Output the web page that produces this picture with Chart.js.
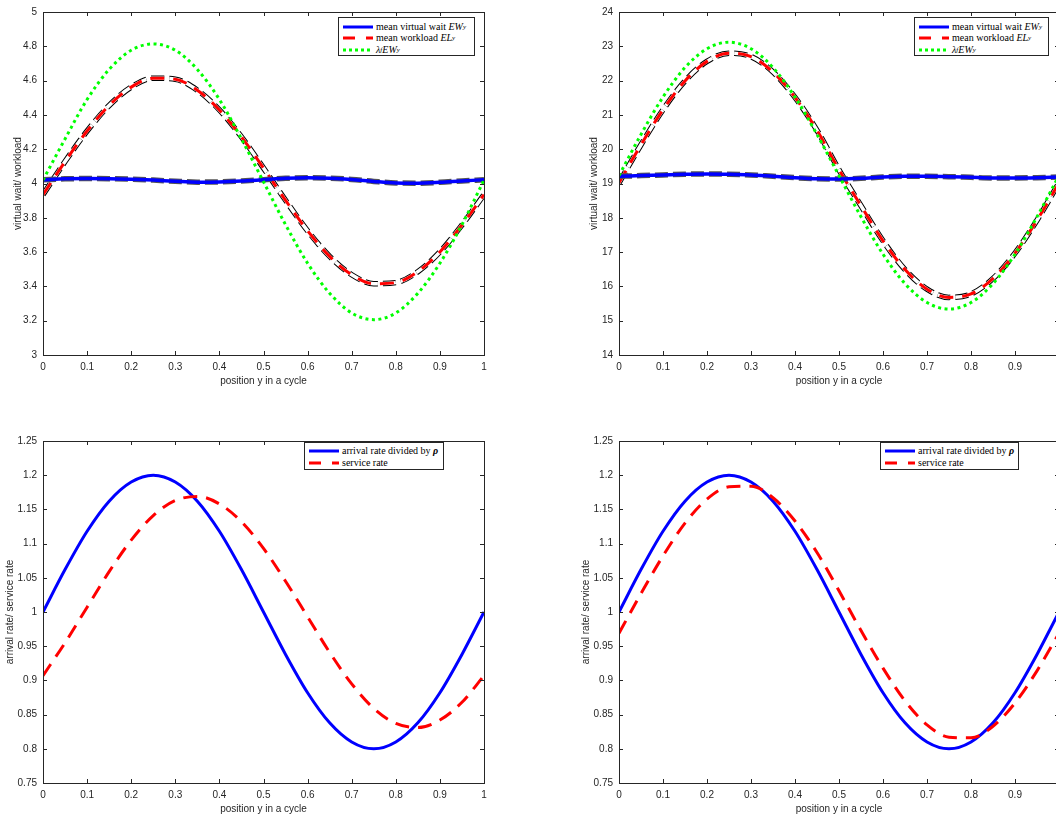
<!DOCTYPE html>
<html>
<head>
<meta charset="utf-8">
<script src="https://cdn.jsdelivr.net/npm/chart.js@4.4.0/dist/chart.umd.min.js"></script>
<style>
  html, body { margin: 0; padding: 0; background: #fff; }
  body { position: relative; width: 1056px; height: 818px; overflow: hidden; }
  canvas { position: absolute; }
  .legend {
    position: absolute; box-sizing: border-box; background: #fff;
    border: 1px solid #262626;
    font-family: "Liberation Serif", "DejaVu Serif", serif; font-size: 10px; color: #000;
  }
  .row { position: absolute; left: 4px; height: 11px; display: flex; align-items: center; white-space: nowrap; }
  .row svg { margin-right: 3px; flex: none; }
  sub { font-size: 7px; vertical-align: -2px; line-height: 0; }
</style>
</head>
<body>
<canvas id="waitLow" width="500" height="399" style="left:0;top:0"></canvas>
<canvas id="waitHigh" width="500" height="399" style="left:576px;top:0"></canvas>
<canvas id="rateLow" width="500" height="398" style="left:0;top:429px"></canvas>
<canvas id="rateHigh" width="500" height="398" style="left:576px;top:429px"></canvas>

<div class="legend" style="left:338px;top:17px;width:137px;height:39px">
  <div class="row" style="top:3px"><svg width="30" height="6"><line x1="0" y1="3" x2="30" y2="3" stroke="#0000ff" stroke-width="3"/></svg>mean virtual wait&nbsp;<i>EW</i><sub><i>y</i></sub></div>
  <div class="row" style="top:14px"><svg width="30" height="6"><line x1="0" y1="3" x2="30" y2="3" stroke="#ff0000" stroke-width="3" stroke-dasharray="12 11"/></svg>mean workload&nbsp;<i>EL</i><sub><i>y</i></sub></div>
  <div class="row" style="top:26px"><svg width="30" height="6"><line x1="0" y1="3" x2="30" y2="3" stroke="#00ff00" stroke-width="3" stroke-dasharray="3 3"/></svg><i>λ</i><sub><i>f</i></sub><i>EW</i><sub><i>y</i></sub></div>
</div>
<div class="legend" style="left:914px;top:17px;width:135px;height:39px">
  <div class="row" style="top:3px"><svg width="30" height="6"><line x1="0" y1="3" x2="30" y2="3" stroke="#0000ff" stroke-width="3"/></svg>mean virtual wait&nbsp;<i>EW</i><sub><i>y</i></sub></div>
  <div class="row" style="top:14px"><svg width="30" height="6"><line x1="0" y1="3" x2="30" y2="3" stroke="#ff0000" stroke-width="3" stroke-dasharray="12 11"/></svg>mean workload&nbsp;<i>EL</i><sub><i>y</i></sub></div>
  <div class="row" style="top:26px"><svg width="30" height="6"><line x1="0" y1="3" x2="30" y2="3" stroke="#00ff00" stroke-width="3" stroke-dasharray="3 3"/></svg><i>λ</i><sub><i>f</i></sub><i>EW</i><sub><i>y</i></sub></div>
</div>
<div class="legend" style="left:304px;top:442px;width:140px;height:28px">
  <div class="row" style="top:2px"><svg width="30" height="6"><line x1="0" y1="3" x2="30" y2="3" stroke="#0000ff" stroke-width="3"/></svg>arrival rate divided by&nbsp;<b><i>ρ</i></b></div>
  <div class="row" style="top:14px"><svg width="30" height="6"><line x1="0" y1="3" x2="30" y2="3" stroke="#ff0000" stroke-width="3" stroke-dasharray="12 11"/></svg>service rate</div>
</div>
<div class="legend" style="left:880px;top:442px;width:139px;height:28px">
  <div class="row" style="top:2px"><svg width="30" height="6"><line x1="0" y1="3" x2="30" y2="3" stroke="#0000ff" stroke-width="3"/></svg>arrival rate divided by&nbsp;<b><i>ρ</i></b></div>
  <div class="row" style="top:14px"><svg width="30" height="6"><line x1="0" y1="3" x2="30" y2="3" stroke="#ff0000" stroke-width="3" stroke-dasharray="12 11"/></svg>service rate</div>
</div>

<script>
// position y in a cycle, sampled every 0.05
const positions = [0, 0.05, 0.1, 0.15, 0.2, 0.25, 0.3, 0.35, 0.4, 0.45, 0.5,
  0.55, 0.6, 0.65, 0.7, 0.75, 0.8, 0.85, 0.9, 0.95, 1];

// top left: virtual wait / workload (low load)
const lowWait = [4.022, 4.027, 4.029, 4.028, 4.025, 4.020, 4.013, 4.008, 4.009, 4.014, 4.022,
  4.030, 4.033, 4.031, 4.024, 4.012, 4.003, 4.002, 4.007, 4.015, 4.022];
const lowWorkload = [3.935, 4.128, 4.306, 4.455, 4.562, 4.614, 4.608, 4.544, 4.429, 4.272, 4.090,
  3.902, 3.724, 3.575, 3.468, 3.416, 3.422, 3.486, 3.601, 3.758, 3.935];
const lowLambdaWait = [4.02, 4.26, 4.49, 4.665, 4.777, 4.814, 4.777, 4.665, 4.49, 4.26, 4.01,
  3.76, 3.535, 3.36, 3.245, 3.206, 3.245, 3.36, 3.535, 3.76, 4.02];

// top right: virtual wait / workload (high load)
const highWait = [19.21, 19.23, 19.25, 19.27, 19.28, 19.27, 19.25, 19.21, 19.17, 19.14, 19.13,
  19.15, 19.19, 19.21, 19.21, 19.20, 19.18, 19.16, 19.16, 19.17, 19.19];
const highWorkload = [19.02, 20.13, 21.15, 21.99, 22.56, 22.80, 22.70, 22.25, 21.51, 20.55, 19.40,
  18.35, 17.33, 16.49, 15.92, 15.68, 15.78, 16.23, 16.97, 17.93, 19.02];
const highLambdaWait = [19.23, 20.43, 21.52, 22.38, 22.93, 23.12, 22.93, 22.38, 21.52, 20.43, 19.23,
  18.03, 16.94, 16.08, 15.53, 15.34, 15.53, 16.08, 16.94, 18.03, 19.23];

// bottom: arrival rate divided by rho and service rate
const arrivalRate = [1, 1.062, 1.118, 1.162, 1.190, 1.2, 1.190, 1.162, 1.118, 1.062, 1,
  0.938, 0.882, 0.838, 0.810, 0.8, 0.810, 0.838, 0.882, 0.938, 1];
const lowService = [0.907, 0.955, 1.007, 1.059, 1.105, 1.141, 1.163, 1.169, 1.158, 1.132, 1.093,
  1.045, 0.993, 0.941, 0.895, 0.859, 0.837, 0.831, 0.842, 0.868, 0.907];
const highService = [0.969, 1.027, 1.082, 1.130, 1.165, 1.183, 1.184, 1.167, 1.133, 1.087, 1.031,
  0.973, 0.918, 0.870, 0.835, 0.817, 0.816, 0.833, 0.867, 0.914, 0.969];

// tick values
const xTicks = [0, 0.1, 0.2, 0.3, 0.4, 0.5, 0.6, 0.7, 0.8, 0.9, 1];
const lowWaitTicks = [3, 3.2, 3.4, 3.6, 3.8, 4, 4.2, 4.4, 4.6, 4.8, 5];
const highWaitTicks = [14, 15, 16, 17, 18, 19, 20, 21, 22, 23, 24];
const rateTicks = [0.75, 0.8, 0.85, 0.9, 0.95, 1, 1.05, 1.1, 1.15, 1.2, 1.25];

const axisColor = '#262626';
const tickFont = { family: 'Liberation Sans, Arial, sans-serif', size: 10 };

const pts = ys => positions.map((x, i) => ({ x, y: ys[i] }));
const fmt = v => String(Math.round(v * 100) / 100);

// matlab style box with inward ticks on all four sides
const boxTicks = {
  id: 'boxTicks',
  afterDraw(chart) {
    const { ctx, chartArea: a, scales: { x, y } } = chart;
    ctx.save();
    ctx.strokeStyle = axisColor;
    ctx.lineWidth = 1;
    ctx.beginPath();
    x.ticks.forEach(t => {
      const px = Math.round(x.getPixelForValue(t.value)) + 0.5;
      ctx.moveTo(px, a.bottom); ctx.lineTo(px, a.bottom - 4);
      ctx.moveTo(px, a.top); ctx.lineTo(px, a.top + 4);
    });
    y.ticks.forEach(t => {
      const py = Math.round(y.getPixelForValue(t.value)) + 0.5;
      ctx.moveTo(a.left, py); ctx.lineTo(a.left + 4, py);
      ctx.moveTo(a.right, py); ctx.lineTo(a.right - 4, py);
    });
    ctx.stroke();
    ctx.strokeRect(Math.round(a.left) + 0.5, Math.round(a.top) + 0.5,
      Math.round(a.width), Math.round(a.height));
    ctx.restore();
  }
};

function makeChart(id, datasets, yMin, yMax, yTicks, yTitle, titlePad, padRight) {
  return new Chart(document.getElementById(id), {
    type: 'line',
    data: { datasets },
    options: {
      responsive: false,
      animation: false,
      events: [],
      layout: { padding: { top: 7, right: padRight, left: 0, bottom: 0 } },
      plugins: { legend: { display: false }, tooltip: { enabled: false } },
      elements: {
        point: { radius: 0 },
        line: { cubicInterpolationMode: 'monotone', borderCapStyle: 'butt', fill: false }
      },
      scales: {
        x: {
          type: 'linear', min: 0, max: 1,
          afterBuildTicks: s => { s.ticks = xTicks.map(v => ({ value: v })); },
          afterFit: s => { s.height = 44; },
          grid: { display: false, drawTicks: false },
          border: { display: false },
          ticks: { padding: 6, font: tickFont, color: axisColor, maxRotation: 0, autoSkip: false, callback: fmt },
          title: { display: true, text: 'position y in a cycle', font: tickFont, color: axisColor, padding: { top: 0, bottom: 12 } }
        },
        y: {
          type: 'linear', min: yMin, max: yMax,
          afterBuildTicks: s => { s.ticks = yTicks.map(v => ({ value: v })); },
          afterFit: s => { s.width = 43; },
          grid: { display: false, drawTicks: false },
          border: { display: false },
          ticks: { padding: 6, font: tickFont, color: axisColor, autoSkip: false, callback: fmt },
          title: { display: true, text: yTitle, font: tickFont, color: axisColor, padding: { top: titlePad, bottom: 0 } }
        }
      }
    },
    plugins: [boxTicks]
  });
}

// order: lower number is drawn on top
function waitSets(wait, workload, lambdaWait) {
  return [
    { data: pts(lambdaWait), borderColor: '#00ff00', borderWidth: 3, borderDash: [3, 3.5], order: 0 },
    { data: pts(wait), borderColor: '#0000ff', borderWidth: 3.5, order: 1 },
    { data: pts(wait), borderColor: '#555555', borderWidth: 5.5, borderDash: [13, 5], order: 2 },
    { data: pts(workload), borderColor: '#ff0000', borderWidth: 3, borderDash: [14, 9], order: 3 },
    { data: pts(workload), borderColor: '#ffffff', borderWidth: 3.5, borderDash: [13, 5], order: 4 },
    { data: pts(workload), borderColor: '#000000', borderWidth: 5.5, borderDash: [13, 5], order: 5 }
  ];
}

function rateSets(service) {
  return [
    { data: pts(service), borderColor: '#ff0000', borderWidth: 3, borderDash: [14, 9], order: 0 },
    { data: pts(arrivalRate), borderColor: '#0000ff', borderWidth: 3, order: 1 }
  ];
}

makeChart('waitLow', waitSets(lowWait, lowWorkload, lowLambdaWait), 3, 5, lowWaitTicks, 'virtual wait/ workload', 12, 16);
makeChart('waitHigh', waitSets(highWait, highWorkload, highLambdaWait), 14, 24, highWaitTicks, 'virtual wait/ workload', 12, 17);
makeChart('rateLow', rateSets(lowService), 0.75, 1.25, rateTicks, 'arrival rate/ service rate', 4, 16);
makeChart('rateHigh', rateSets(highService), 0.75, 1.25, rateTicks, 'arrival rate/ service rate', 4, 17);
</script>
</body>
</html>
